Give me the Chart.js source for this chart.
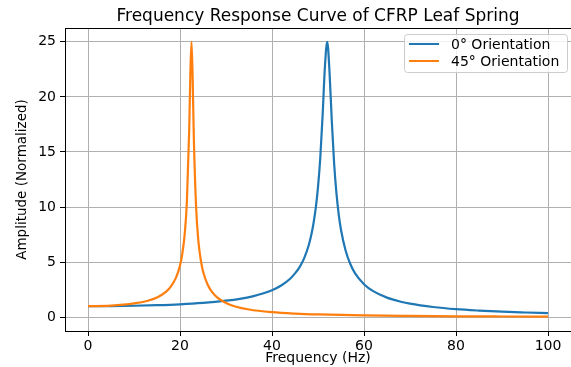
<!DOCTYPE html>
<html>
<head>
<meta charset="utf-8">
<script src="https://cdn.jsdelivr.net/npm/chart.js@4/dist/chart.umd.min.js"></script>
<style>
  html, body { margin: 0; padding: 0; background: #fff; }
</style>
</head>
<body>
<canvas id="Chart1" width="571" height="367"></canvas>
<script>
// values
const freq0 = [0, 5, 10, 15, 20, 25, 30, 33, 36, 38, 40, 42, 44, 45, 46, 47, 48, 48.5, 49, 49.5, 50, 50.5, 51, 51.5, 52,
    52.5, 53, 53.5, 54, 54.5, 55, 56, 57, 58, 60, 62, 65, 68, 70, 75, 80, 85, 90, 95, 100];
const amp0 = [1.00, 1.01, 1.04, 1.09, 1.17, 1.30, 1.50, 1.67, 1.92, 2.15, 2.45, 2.88, 3.52, 3.98, 4.55, 5.36, 6.55, 7.39, 8.46, 9.87, 11.8, 14.5, 18.3, 22.7, 25.0,
    22.3, 17.8, 14.0, 11.3, 9.34, 7.94, 6.05, 4.85, 4.03, 3.00, 2.37, 1.78, 1.41, 1.23, 0.93, 0.73, 0.60, 0.50, 0.43, 0.37];

const freq45 = [0, 5, 10, 13, 15, 17, 18, 19, 19.5, 20, 20.5, 21, 21.5, 22, 22.25, 22.5, 22.75, 23, 23.5, 24, 24.5, 25,
    26, 27, 28, 30, 32, 35, 40, 45, 50, 60, 70, 80, 90, 100];
const amp45 = [1.00, 1.05, 1.25, 1.50, 1.80, 2.33, 2.78, 3.48, 4.01, 4.69, 5.75, 7.45, 10.5, 17.0, 22.1, 25.0, 21.7, 16.4, 10.0, 6.9, 5.24, 4.18,
    2.97, 2.27, 1.82, 1.29, 0.98, 0.70, 0.46, 0.33, 0.25, 0.16, 0.115, 0.086, 0.067, 0.053];

const labels = ['0° Orientation', '45° Orientation'];
const xTicks = [0, 20, 40, 60, 80, 100];
const yTicks = [0, 5, 10, 15, 20, 25];

const FONT = "'DejaVu Sans', sans-serif";

function points(xs, ys) {
    return xs.map((x, i) => ({ x: x, y: ys[i] }));
}

// axes frame (top and right spines too)
const framePlugin = {
    id: 'frame',
    afterDatasetsDraw(chart) {
        const a = chart.chartArea;
        const ctx = chart.ctx;
        ctx.save();
        ctx.strokeStyle = '#000';
        ctx.lineWidth = 1;
        ctx.strokeRect(Math.round(a.left) + 0.5, Math.round(a.top) + 0.5,
            Math.round(a.right - a.left), Math.round(a.bottom - a.top));
        ctx.restore();
    }
};

// matplotlib style legend in the upper right corner
const legendPlugin = {
    id: 'mplLegend',
    afterDraw(chart) {
        const ctx = chart.ctx;
        const x = 404, y = 34, w = 163, h = 38, r = 3;
        ctx.save();
        ctx.beginPath();
        ctx.roundRect(x + 0.5, y + 0.5, w, h, r);
        ctx.fillStyle = 'rgba(255,255,255,0.8)';
        ctx.fill();
        ctx.strokeStyle = '#cccccc';
        ctx.lineWidth = 1;
        ctx.stroke();
        ctx.font = '14px ' + FONT;
        ctx.textBaseline = 'middle';
        chart.data.datasets.forEach((ds, i) => {
            const ly = 44 + i * 17;
            ctx.strokeStyle = ds.borderColor;
            ctx.lineWidth = 2;
            ctx.beginPath();
            ctx.moveTo(409, ly);
            ctx.lineTo(439, ly);
            ctx.stroke();
            ctx.fillStyle = '#000';
            ctx.fillText(ds.label, 451, ly + 1);
        });
        ctx.restore();
    }
};

const ctx = document.getElementById('Chart1');

new Chart(ctx, {
    type: 'line',
    data: {
        datasets: [
            {
                label: labels[0],
                data: points(freq0, amp0),
                borderColor: '#1f77b4',
                borderWidth: 2.2,
                pointRadius: 0,
                fill: false,
                cubicInterpolationMode: 'monotone',
                order: 1
            },
            {
                label: labels[1],
                data: points(freq45, amp45),
                borderColor: '#ff7f0e',
                borderWidth: 2.2,
                pointRadius: 0,
                fill: false,
                cubicInterpolationMode: 'monotone',
                order: 0
            }
        ]
    },
    options: {
        responsive: false,
        animation: false,
        layout: { padding: 0 },
        plugins: {
            legend: { display: false },
            tooltip: { enabled: false },
            title: {
                display: true,
                text: 'Frequency Response Curve of CFRP Leaf Spring',
                color: '#000',
                fullSize: false,
                font: { family: FONT, size: 17, weight: 'normal', lineHeight: 1.2 },
                padding: { top: 6, bottom: 1.6 }
            }
        },
        scales: {
            x: {
                type: 'linear',
                min: -5,
                max: 105,
                afterFit(scale) { scale.height = 36; },
                afterBuildTicks(scale) { scale.ticks = xTicks.map(v => ({ value: v })); },
                ticks: {
                    color: '#000',
                    font: { family: FONT, size: 14 },
                    padding: 2,
                    maxRotation: 0
                },
                grid: { color: '#b0b0b0', lineWidth: 1, tickColor: '#000', tickLength: 5 },
                border: { display: true, color: '#000', width: 1 },
                title: {
                    display: true,
                    text: 'Frequency (Hz)',
                    color: '#000',
                    font: { family: FONT, size: 14, lineHeight: 1.2 },
                    padding: { top: 0, bottom: 0.5 }
                }
            },
            y: {
                type: 'linear',
                min: -1.25,
                max: 26.25,
                afterFit(scale) { scale.width = 65; },
                afterBuildTicks(scale) { scale.ticks = yTicks.map(v => ({ value: v })); },
                ticks: {
                    color: '#000',
                    font: { family: FONT, size: 14 },
                    padding: 4
                },
                grid: { color: '#b0b0b0', lineWidth: 1, tickColor: '#000', tickLength: 5 },
                border: { display: true, color: '#000', width: 1 },
                title: {
                    display: true,
                    text: 'Amplitude (Normalized)',
                    color: '#000',
                    font: { family: FONT, size: 13.5, lineHeight: 1.2 },
                    padding: { top: 14, bottom: 0 }
                }
            }
        }
    },
    plugins: [framePlugin, legendPlugin]
});
</script>
</body>
</html>
